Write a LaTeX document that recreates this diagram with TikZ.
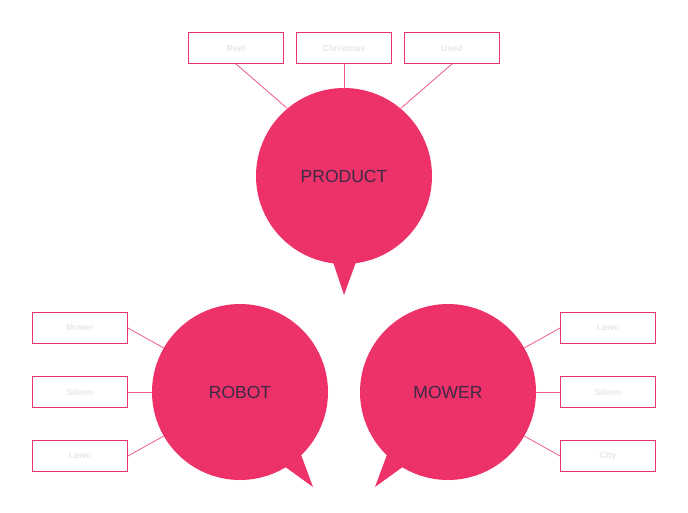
\documentclass[tikz,border=0pt]{standalone}
\usepackage{fontspec}
\setmainfont{Liberation Sans}
\definecolor{bubble}{HTML}{EC3269}
\definecolor{boxline}{HTML}{E8336A}
\definecolor{linkline}{HTML}{EC5A85}
\definecolor{boxtext}{HTML}{EDE3E8}
\definecolor{bubtext}{HTML}{3B2A45}
\begin{document}
\begin{tikzpicture}[x=1pt,y=-1pt,
  bubblenode/.style={circle,fill=bubble,minimum size=176pt,inner sep=0pt,
    text=bubtext,font=\fontsize{17.5}{18}\selectfont},
  tagbox/.style={draw=boxline,line width=0.9pt,minimum width=95pt,minimum height=31pt,
    inner sep=0pt,text=boxtext,font=\bfseries\fontsize{8.8}{9}\selectfont},
  link/.style={draw=linkline,line width=0.8pt}]
\useasboundingbox (0,0) rectangle (688,512);
% tails
\fill[bubble] (333,262) -- (344,295) -- (356,262) -- cycle;
\fill[bubble] (284,466) -- (313,487) -- (300,452) -- cycle;
\fill[bubble] (404,466) -- (375,487) -- (388,452) -- cycle;
% bubbles
\node[bubblenode] (product) at (344,176) {PRODUCT};
\node[bubblenode] (robot) at (240,392) {ROBOT};
\node[bubblenode] (mower) at (448,392) {MOWER};
% boxes
\node[tagbox] (reel) at (236,48) {Reel};
\node[tagbox] (christmas) at (344,48) {Christmas};
\node[tagbox] (used) at (452,48) {Used};
\node[tagbox] (lmower) at (80,328) {Mower};
\node[tagbox] (lsileno) at (80,392) {Sileno};
\node[tagbox] (llawn) at (80,456) {Lawn};
\node[tagbox] (rlawn) at (608,328) {Lawn};
\node[tagbox] (rsileno) at (608,392) {Sileno};
\node[tagbox] (rcity) at (608,456) {City};
% connectors
\draw[link] (reel.south) -- (product.130);
\draw[link] (christmas.south) -- (product.north);
\draw[link] (used.south) -- (product.50);
\draw[link] (lmower.east) -- (robot.150);
\draw[link] (lsileno.east) -- (robot.west);
\draw[link] (llawn.east) -- (robot.210);
\draw[link] (rlawn.west) -- (mower.30);
\draw[link] (rsileno.west) -- (mower.east);
\draw[link] (rcity.west) -- (mower.330);
\end{tikzpicture}
\end{document}
